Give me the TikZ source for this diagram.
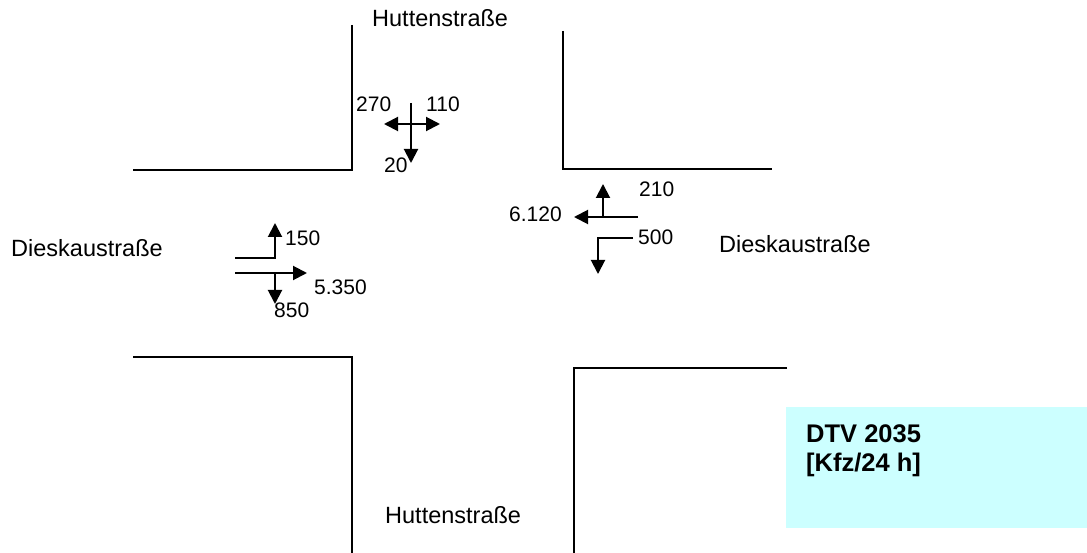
\documentclass[tikz,border=0pt]{standalone}
\usepackage{fontspec}
\setmainfont{Liberation Sans}
\usetikzlibrary{arrows.meta}
\definecolor{boxcyan}{HTML}{CCFFFF}
\tikzset{
  curb/.style={line width=2pt, line join=miter},
  flow/.style={line width=2pt, -{Triangle[length=14pt,width=14pt]}},
  street/.style={anchor=base west, inner sep=0pt, font=\fontsize{23.5}{28}\selectfont},
  count/.style={anchor=base west, inner sep=0pt, font=\fontsize{21}{25}\selectfont},
  legend/.style={anchor=base west, inner sep=0pt, font=\fontsize{25.5}{30}\selectfont\bfseries, align=left},
}
\begin{document}
\begin{tikzpicture}[x=1pt,y=-1pt]
\useasboundingbox (0,0) rectangle (1087,553);
% curbs
\draw[curb] (352,25) -- (352,170) -- (133,170);
\draw[curb] (563,31) -- (563,169) -- (772,169);
\draw[curb] (133,357) -- (352,357) -- (352,553);
\draw[curb] (787,368) -- (574,368) -- (574,553);
% legend box
\fill[boxcyan] (786,407) rectangle (1087,528);
\node[legend] (dtv) at (806,442) {DTV 2035};
\node[legend] (unit) at (806,471) {[Kfz/24 h]};
% street names
\node[street] (hn) at (372,27) {Huttenstraße};
\node[street] (hs) at (385,523) {Huttenstraße};
\node[street] (dw) at (11,257) {Dieskaustraße};
\node[street] (de) at (719,253) {Dieskaustraße};
% north approach
\coordinate (nTop) at (411,103);
\coordinate (nDown) at (411,163);
\coordinate (nL) at (384,124);
\coordinate (nR) at (440,124);
\draw[flow] (nTop) -- (nDown);
\draw[flow] (411,124) -- (nL);
\draw[flow] (411,124) -- (nR);
\node[count] (c270) at (356,112) {270};
\node[count] (c110) at (426,112) {110};
\node[count] (c20) at (384,173) {20};
% east approach
\coordinate (eStart) at (638,217);
\coordinate (eEnd) at (574,217);
\draw[flow] (eStart) -- (eEnd);
\draw[flow] (603,217) -- (603,184);
\draw[flow] (633,238) -- (598,238) -- (598,274);
\node[count] (c210) at (639,197) {210};
\node[count] (c6120) at (509,222) {6.120};
\node[count] (c500) at (638,245) {500};
% west approach
\draw[flow] (235,258) -- (275,258) -- (275,223);
\draw[flow] (235,273) -- (307,273);
\draw[flow] (275,273) -- (275,304);
\node[count] (c150) at (285,246) {150};
\node[count] (c5350) at (314,295) {5.350};
\node[count] (c850) at (274,318) {850};
\end{tikzpicture}
\end{document}
